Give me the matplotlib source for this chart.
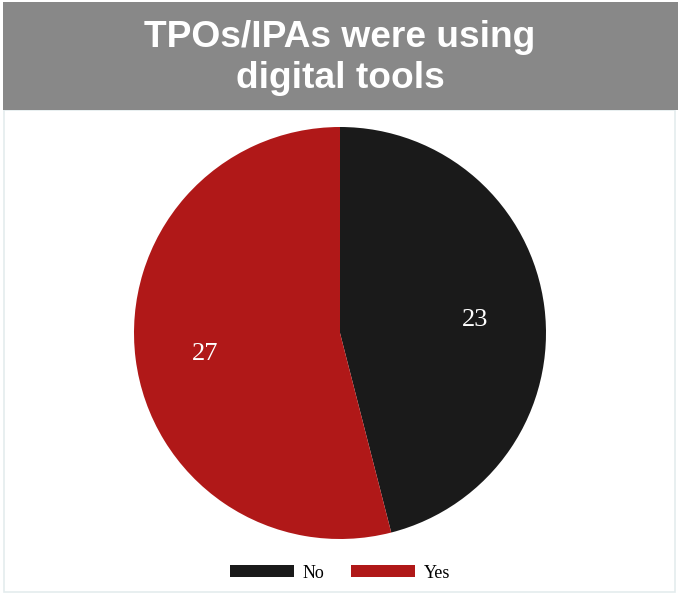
import matplotlib.pyplot as plt
import numpy as np
from matplotlib.patches import Rectangle

labels = ['No', 'Yes']
values = [23, 27]
colors = ['#1a1a1a', '#b01818']
title = 'TPOs/IPAs were using\ndigital tools'

W, H = 680, 597
fig = plt.figure(figsize=(W/100, H/100), dpi=100)

# light frame round the chart area
fig.patches.append(Rectangle((4/W, 1 - 592/H), 671/W, 482/H, transform=fig.transFigure,
	facecolor='white', edgecolor='#e4ecee', lw=1.2, zorder=-2))
# grey title banner
fig.patches.append(Rectangle((3/W, 1 - 110/H), 675/W, 108/H, transform=fig.transFigure,
	facecolor='#888888', edgecolor='none', zorder=-1))
fig.text(0.5, 1 - 58/H, title, ha='center', va='center', color='white',
	fontsize=26.7, fontweight='bold', family='Liberation Sans', linespacing=1.2)

r = 206
cx, cy = 340, 333
ax = fig.add_axes([(cx - r)/W, 1 - (cy + r)/H, 2*r/W, 2*r/H])
wedges, _ = ax.pie(values, colors=colors, startangle=90, counterclock=False, radius=1)
for w, v in zip(wedges, values):
	mid = np.deg2rad((w.theta1 + w.theta2) / 2)
	ax.text(0.66*np.cos(mid), 0.66*np.sin(mid) - 0.02, str(v), ha='center', va='center',
		color='white', fontsize=19, family='Liberation Serif')
ax.set_xlim(-1, 1)
ax.set_ylim(-1, 1)
ax.set_aspect('equal')
ax.axis('off')

leg = fig.legend(wedges, labels, loc='center', bbox_to_anchor=(0.5, 1 - 573/H), ncol=2,
	frameon=False, handlelength=3.55, handleheight=0.6, handletextpad=0.5, columnspacing=1.45,
	prop={'family': 'Liberation Serif', 'size': 13})

fig.savefig('out.png', dpi=100)
